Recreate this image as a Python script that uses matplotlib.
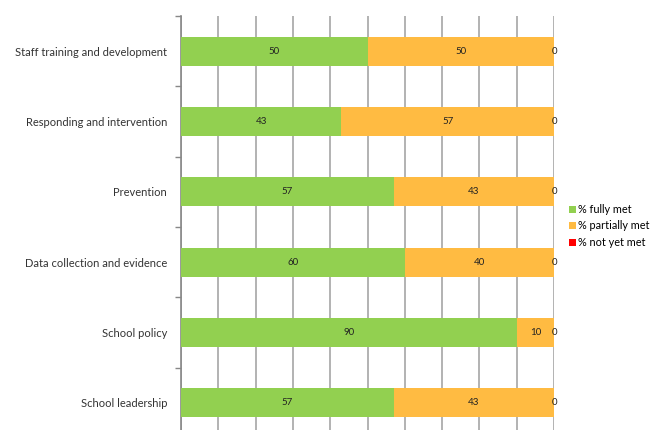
import matplotlib
matplotlib.use("Agg")
import matplotlib.pyplot as plt
import numpy as np

categories = ["School leadership", "School policy", "Data collection and evidence",
              "Prevention", "Responding and intervention", "Staff training and development"]
fully_met = [57, 90, 60, 57, 43, 50]
partially_met = [43, 10, 40, 43, 57, 50]
not_yet_met = [0, 0, 0, 0, 0, 0]
series_names = ["% fully met", "% partially met", "% not yet met"]
colors = ["#92D050", "#FFBB42", "#FF0000"]

plt.rcParams['font.family'] = ['Lato', 'DejaVu Sans']

fig = plt.figure(figsize=(6.54, 4.30), dpi=100)
W, H = 654, 430
ax = fig.add_axes([181 / W, -8 / H, (554 - 181) / W, 422 / H])

y = np.arange(len(categories))
left = np.zeros(len(categories))
for vals, name, c in zip([fully_met, partially_met, not_yet_met], series_names, colors):
    vals = np.array(vals, dtype=float)
    ax.barh(y, vals, left=left, height=0.41, color=c, label=name, zorder=3)
    for yi, l, v in zip(y, left, vals):
        ax.text(l + v / 2, yi, f"{int(v)}", ha="center", va="center", fontsize=7,
                color="#222222", zorder=4)
    left += vals

ax.set_xlim(0, 100)
ax.set_ylim(-0.5, len(categories) - 0.5)
ax.set_xticks(np.arange(0, 101, 10))
ax.xaxis.grid(True, color="#A6A6A6", linewidth=1.2, zorder=0)
ax.tick_params(axis="x", length=0, labelbottom=False)
ax.set_yticks(y)
ax.set_yticklabels(categories, fontsize=8.0, color="#333333")
ax.set_yticks(np.arange(-0.5, len(categories), 1), minor=True)
ax.tick_params(axis="y", which="major", length=0, pad=10)
ax.tick_params(axis="y", which="minor", length=4, color="#888888", width=1)
for s in ["top", "right", "bottom"]:
    ax.spines[s].set_visible(False)
ax.spines["left"].set_color("#888888")
ax.spines["left"].set_linewidth(1.2)

handles, labels = ax.get_legend_handles_labels()
fig.legend(handles, labels, loc="center left", bbox_to_anchor=(569 / W, 1 - 226 / H),
           frameon=False, fontsize=7.8, handlelength=0.6, handleheight=0.6,
           handletextpad=0.25, labelspacing=0.5, borderaxespad=0, borderpad=0)

fig.savefig("out.png", dpi=100)
